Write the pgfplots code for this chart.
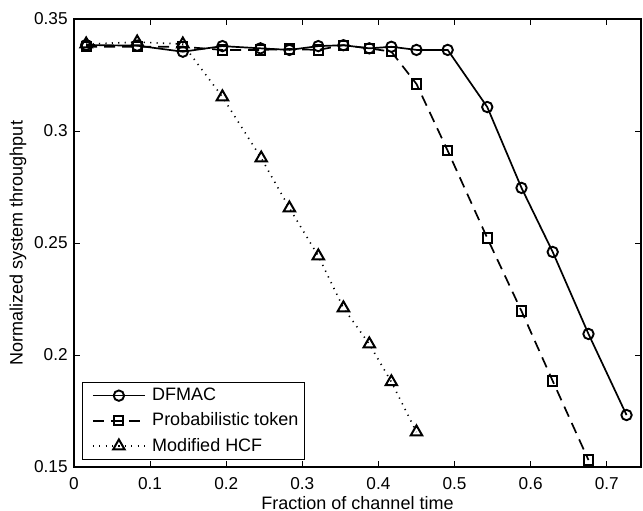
\documentclass[border=0pt]{standalone}
\usepackage{pgfplots}
\pgfplotsset{compat=1.18}
\usepackage{fontspec}
\setmainfont{Liberation Sans}
\begin{document}
\fontsize{9bp}{10.5bp}\selectfont
\begin{tikzpicture}
\begin{axis}[
  scale only axis,
  width=283.5bp, height=224bp,
  xmin=0, xmax=0.745, ymin=0.15, ymax=0.35,
  xtick={0,0.1,0.2,0.3,0.4,0.5,0.6,0.7},
  ytick={0.15,0.2,0.25,0.3,0.35},
  yticklabels={0.15,0.2,0.25,0.3,0.35},
  xticklabels={0,0.1,0.2,0.3,0.4,0.5,0.6,0.7},
  tick align=inside,
  major tick length=3bp,
  axis line style={line width=0.7bp},
  tick style={line width=0.5bp, black},
  ticklabel style={font=\fontsize{8.6bp}{10bp}\selectfont},
  xticklabel style={yshift=-2bp},
  every axis x label/.style={at={(axis description cs:0.5,-0.0804)}, anchor=center},
  every axis y label/.style={at={(axis description cs:-0.0988,0.5)}, rotate=90, anchor=center},
  xlabel={Fraction of channel time},
  ylabel={Normalized system throughput},
  legend style={at={(axis description cs:0.0141,0.0156)}, anchor=south west,
    draw=black, line width=0.55bp, inner xsep=2.25bp, inner ysep=1.25bp,
    row sep=1.8bp,
    nodes={inner xsep=0.75bp, inner ysep=1.5bp},
    font=\fontsize{9bp}{10.5bp}\selectfont},
  legend cell align=left,
  legend image code/.code={\path (0bp,0bp) (31bp,0bp); \draw[mark repeat=2,mark phase=2,#1] plot coordinates {(2.5bp,0bp) (15.5bp,0bp) (28.5bp,0bp)};},
]
\addplot[black, line width=0.85bp, mark=o, mark size=2.6bp, mark options={line width=0.95bp}] coordinates {
(0.016,0.3384) (0.083,0.3381) (0.143,0.3354) (0.195,0.3379) (0.245,0.3369)
(0.283,0.3362) (0.321,0.3379) (0.354,0.3383) (0.388,0.3369) (0.417,0.3376)
(0.450,0.3362) (0.491,0.3362) (0.543,0.3107) (0.588,0.2746) (0.629,0.2460)
(0.676,0.2094) (0.726,0.1732)};
\addlegendentry{DFMAC}
\addplot[black, line width=0.85bp, dash pattern=on 5.5bp off 3.5bp, mark=square, mark size=2.3bp, mark options={solid, line width=1bp}] coordinates {
(0.016,0.3376) (0.083,0.3376) (0.143,0.3376) (0.195,0.3362) (0.245,0.3362)
(0.283,0.3366) (0.321,0.3362) (0.354,0.3383) (0.388,0.3369) (0.417,0.3354)
(0.450,0.3210) (0.491,0.2912) (0.543,0.2522) (0.588,0.2196) (0.629,0.1884)
(0.676,0.1531)};
\addlegendentry{Probabilistic token}
\addplot[black, line width=0.8bp, dash pattern=on 0.6bp off 2.6bp, mark=triangle, mark size=3.3bp, mark options={solid, line width=1bp}] coordinates {
(0.016,0.3388) (0.083,0.3397) (0.143,0.3388) (0.195,0.3152) (0.246,0.2879)
(0.283,0.2656) (0.321,0.2442) (0.354,0.2210) (0.388,0.2049) (0.417,0.1880)
(0.450,0.1656)};
\addlegendentry{Modified HCF}
\end{axis}
\pgfresetboundingbox
\path[use as bounding box] ([xshift=-37bp,yshift=-22bp]current axis.south west) rectangle ([xshift=1bp,yshift=9.5bp]current axis.north east);
\end{tikzpicture}
\end{document}
